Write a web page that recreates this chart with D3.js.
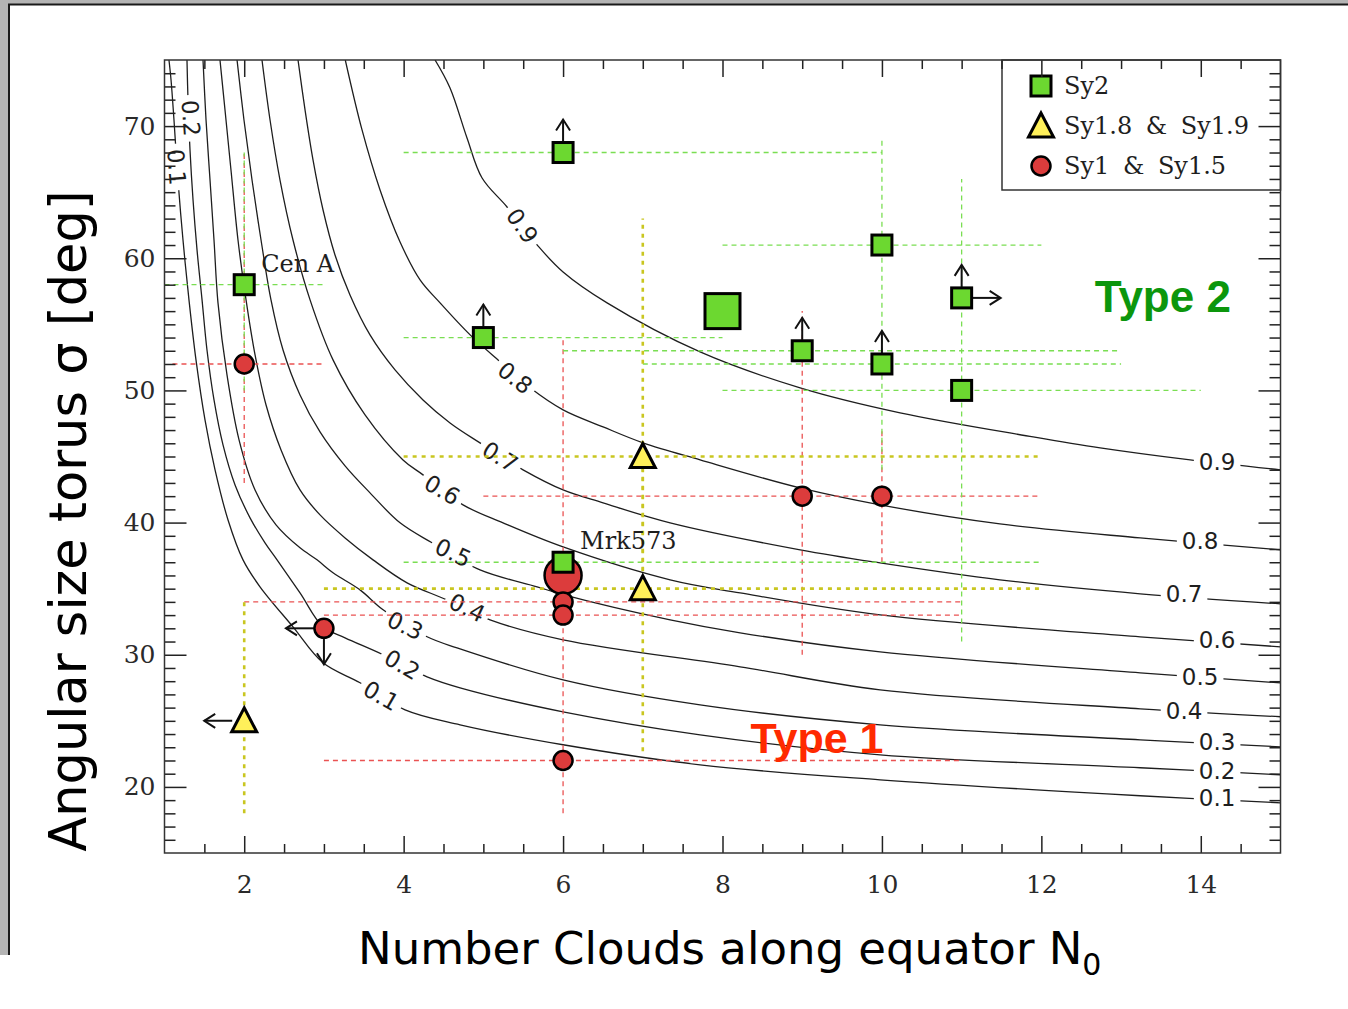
<!DOCTYPE html>
<html>
<head>
<meta charset="utf-8">
<script src="https://cdnjs.cloudflare.com/ajax/libs/d3/7.8.5/d3.min.js"></script>
<style>
  html, body { margin: 0; padding: 0; background: #fff; }
  svg { display: block; }
</style>
</head>
<body>
<svg id="chart" width="1348" height="1009"></svg>
<script>
// ---- contour curves of constant type-2 probability, sampled as [N0, sigma] ----
const contour01 = [[1.056,75],[1.082,73.49],[1.119,70.46],[1.169,65.92],[1.232,61.38],[1.307,56.85],[1.395,52.31],[1.508,47.77],[1.634,43.99],[1.797,40.20],[1.985,37.18],[2.198,35.14],[2.612,32.11],[2.989,29.39],[3.453,27.88],[4.018,25.83],[4.708,24.70],[6.0,23.19],[7.719,21.67],[9.977,20.54],[13.24,19.33],[15.0,18.80]];
const contour02 = [[1.282,75],[1.295,71.97],[1.320,68.19],[1.358,64.41],[1.408,60.63],[1.471,56.85],[1.533,53.06],[1.621,49.28],[1.734,45.88],[1.885,42.85],[2.073,40.36],[2.261,38.47],[2.412,37.18],[2.700,34.68],[2.989,32.11],[3.265,31.28],[3.742,30.0],[4.294,28.33],[4.708,27.50],[6.0,25.68],[7.719,23.94],[9.977,22.43],[13.24,21.45],[15.0,20.92]];
const contour03 = [[1.483,75],[1.521,70.46],[1.571,65.92],[1.621,61.38],[1.671,56.62],[1.784,51.17],[1.935,46.26],[2.136,42.47],[2.399,39.83],[2.700,38.09],[2.913,37.18],[3.114,36.20],[3.453,34.91],[3.742,33.40],[4.294,31.36],[4.670,30.52],[6.0,28.10],[7.719,26.21],[9.977,24.70],[13.24,23.56],[15.0,23.03]];
const contour04 = [[1.696,75],[1.759,71.22],[1.834,66.68],[1.922,61.38],[2.023,56.85],[2.136,52.69],[2.274,48.90],[2.462,45.50],[2.700,42.47],[2.951,40.58],[3.265,38.84],[3.616,37.18],[4.043,35.44],[4.545,34.15],[5.084,32.64],[6.0,31.13],[8.221,29.09],[9.977,27.35],[13.24,25.91],[15.0,25.31]];
const contour05 = [[1.910,75],[1.997,70.46],[2.098,65.92],[2.211,61.38],[2.336,56.85],[2.487,53.06],[2.700,49.66],[2.951,46.86],[3.265,44.29],[3.578,42.25],[3.955,39.98],[4.356,38.47],[4.958,36.42],[5.674,35.14],[6.0,34.55],[7.343,32.64],[8.221,31.66],[9.977,30.22],[13.24,28.63],[15.0,27.87]];
const contour06 = [[2.223,75],[2.324,70.46],[2.449,65.92],[2.612,61.38],[2.826,56.85],[3.114,52.31],[3.516,48.15],[3.992,44.74],[4.243,43.61],[4.745,41.34],[5.247,39.98],[6.0,38.16],[7.343,35.67],[8.221,34.68],[9.977,33.02],[13.24,31.36],[15.0,30.60]];
const contour07 = [[2.675,75],[2.763,71.22],[2.863,67.44],[2.989,63.65],[3.139,60.25],[3.327,57.22],[3.578,54.20],[3.892,51.55],[4.243,49.28],[4.582,47.54],[4.958,46.03],[5.498,43.99],[6.0,42.47],[6.502,41.49],[7.343,39.98],[8.974,37.94],[9.977,36.95],[11.48,35.67],[13.24,34.61],[15.0,33.85]];
const contour08 = [[3.268,75],[3.478,69.71],[3.704,65.17],[3.955,61.23],[4.206,58.36],[4.457,56.62],[4.834,54.20],[5.210,52.17],[5.586,50.20],[6.0,48.53],[6.502,47.24],[7.004,46.03],[7.719,44.74],[8.974,42.62],[9.977,41.34],[11.48,39.90],[13.24,38.84],[15.0,37.94]];
const contour09 = [[4.394,75],[4.582,72.88],[4.795,69.10],[4.984,66.07],[5.297,63.88],[5.674,61.01],[6.0,58.96],[6.552,56.62],[7.719,52.91],[8.974,50.19],[10.228,48.30],[11.897,46.48],[12.738,45.65],[13.867,44.74],[15.0,43.99]];

const levels = [0.1, 0.2, 0.3, 0.4, 0.5, 0.6, 0.7, 0.8, 0.9];
const contourPoints = [contour01, contour02, contour03, contour04, contour05, contour06, contour07, contour08, contour09];

// level labels written along the curves: [level, N0, sigma, rotation]
const curveLabels = [
  [0.1, 1.150, 66.9, 86], [0.2, 1.330, 70.6, 86],
  [0.1, 3.716, 26.89, 30], [0.2, 3.98, 29.24, 30], [0.3, 4.018, 32.19, 25],
  [0.4, 4.795, 33.55, 25], [0.5, 4.620, 37.71, 25], [0.6, 4.482, 42.47, 30],
  [0.7, 5.209, 44.97, 32], [0.8, 5.398, 50.95, 38], [0.9, 5.486, 62.44, 55]
];
// level labels at the right-hand end of each curve: [level, N0, sigma]
const edgeLabels = [
  [0.9, 14.205, 44.59], [0.8, 13.992, 38.62], [0.7, 13.79, 34.61],
  [0.6, 14.205, 31.13], [0.5, 13.992, 28.33], [0.4, 13.79, 25.76],
  [0.3, 14.205, 23.42], [0.2, 14.205, 21.22], [0.1, 14.205, 19.18]
];

// ---- galaxies: N0, sigma, ranges, limit arrows ----
const sy2 = [
  { name: "Cen A", n: 2, s: 58, xr: [1, 3], yr: [50, 68] },
  { n: 6, s: 68, xr: [4, 10], up: true },
  { n: 5, s: 54, xr: [4, 8], up: true },
  { n: 8, s: 56, big: true },
  { n: 9, s: 53, xr: [6, 13], up: true },
  { n: 10, s: 61, xr: [8, 12], yr: [44, 69] },
  { n: 10, s: 52, xr: [7, 13], up: true },
  { n: 11, s: 57, yr: [31, 66], up: true, right: true },
  { n: 11, s: 50, xr: [8, 14] },
  { name: "Mrk573", n: 6, s: 37, xr: [4, 12] }
];
const sy18 = [
  { n: 7, s: 45, xr: [4, 12], yr: [35, 63] },
  { n: 7, s: 35, xr: [3, 12], yr: [22.7, 45] },
  { n: 2, s: 25, yr: [18, 34], left: true }
];
const sy1 = [
  { n: 2, s: 52, xr: [1.1, 3], yr: [43, 68] },
  { n: 3, s: 32, left: true, down: true },
  { n: 6, s: 36, big: true, yr: [18, 54] },
  { n: 6, s: 34, xr: [2, 11] },
  { n: 6, s: 33, xr: [3, 11] },
  { n: 6, s: 22, xr: [3, 11] },
  { n: 9, s: 42, xr: [5, 12], yr: [30, 56] },
  { n: 10, s: 42, yr: [37, 47] }
];

const xMajorTicks = [2, 4, 6, 8, 10, 12, 14];
const yMajorTicks = [20, 30, 40, 50, 60, 70];

const legendItems = ["Sy2", "Sy1.8 & Sy1.9", "Sy1 & Sy1.5"];

// ---- drawing ----
const svg = d3.select("#chart");
const W = 1348;
const x = d3.scaleLinear().domain([1, 15]).range([164.5, 1280.5]);
const y = d3.scaleLinear().domain([15, 75]).range([853, 60]);

const GREEN = "#6cd830", RED = "#dc3c3c", YELLOW = "#fff05a";
const GREEN_LINE = "#7ade52", RED_LINE = "#ea5252", YELLOW_LINE = "#c9c620";
const serif = "'DejaVu Serif', serif";
const sans = "'DejaVu Sans', sans-serif";

// page border
svg.append("rect").attr("x", 0).attr("y", 0).attr("width", W).attr("height", 4).attr("fill", "#b4b4b4");
svg.append("rect").attr("x", 0).attr("y", 0).attr("width", 8).attr("height", 955).attr("fill", "#b4b4b4");
svg.append("line").attr("x1", 8).attr("x2", W).attr("y1", 4.5).attr("y2", 4.5).attr("stroke", "#1a1a1a").attr("stroke-width", 2);
svg.append("line").attr("x1", 9).attr("x2", 9).attr("y1", 4).attr("y2", 955).attr("stroke", "#1a1a1a").attr("stroke-width", 2);

svg.append("defs").append("clipPath").attr("id", "plotClip")
  .append("rect").attr("x", x(1)).attr("y", y(75)).attr("width", x(15) - x(1)).attr("height", y(15) - y(75));

const plot = svg.append("g").attr("clip-path", "url(#plotClip)");

// contour curves
const line = d3.line().x(d => x(d[0])).y(d => y(d[1])).curve(d3.curveCatmullRom.alpha(0.5));
plot.selectAll("path.contour").data(contourPoints).join("path")
  .attr("class", "contour")
  .attr("d", line)
  .attr("fill", "none").attr("stroke", "#1e1e1e").attr("stroke-width", 1.3);

// contour labels with a white break in the line
function levelLabel(parent, txt, px, py, rot) {
  const g = parent.append("g").attr("transform", `translate(${px},${py}) rotate(${rot})`);
  const t = g.append("text").text(txt)
    .attr("text-anchor", "middle").attr("dominant-baseline", "central")
    .attr("font-family", sans).attr("font-size", 23).attr("fill", "#1e1e1e");
  const bb = t.node().getBBox();
  g.insert("rect", "text").attr("x", bb.x - 5).attr("y", bb.y + 2)
    .attr("width", bb.width + 10).attr("height", bb.height - 4).attr("fill", "#fff");
}
curveLabels.forEach(d => levelLabel(plot, d3.format(".1f")(d[0]), x(d[1]), y(d[2]), d[3]));
edgeLabels.forEach(d => levelLabel(plot, d3.format(".1f")(d[0]), x(d[1]), y(d[2]), 0));

// range lines
const ranges = plot.append("g");
function drawRanges(list, color, width, dash) {
  list.forEach(d => {
    if (d.xr) ranges.append("line")
      .attr("x1", x(d.xr[0])).attr("x2", x(d.xr[1])).attr("y1", y(d.s)).attr("y2", y(d.s))
      .attr("stroke", color).attr("stroke-width", width).attr("stroke-dasharray", dash);
    if (d.yr) ranges.append("line")
      .attr("x1", x(d.n)).attr("x2", x(d.n)).attr("y1", y(d.yr[0])).attr("y2", y(d.yr[1]))
      .attr("stroke", color).attr("stroke-width", width).attr("stroke-dasharray", dash);
  });
}
drawRanges(sy1, RED_LINE, 1.3, "5,4");
drawRanges(sy2, GREEN_LINE, 1.3, "5,4");
drawRanges(sy18, YELLOW_LINE, 2.6, "4,5");

// limit arrows
const arrows = plot.append("g").attr("stroke", "#111").attr("stroke-width", 2).attr("fill", "none");
function arrow(px, py, dir, start, len) {
  const v = { up: [0, -1], down: [0, 1], left: [-1, 0], right: [1, 0] }[dir];
  const x0 = px + v[0] * start, y0 = py + v[1] * start;
  const x1 = x0 + v[0] * len, y1 = y0 + v[1] * len;
  arrows.append("line").attr("x1", x0).attr("y1", y0).attr("x2", x1).attr("y2", y1);
  const bx = -v[0] * 11, by = -v[1] * 11, wx = v[1] * 7, wy = v[0] * 7;
  arrows.append("polyline").attr("points",
    `${x1 + bx + wx},${y1 + by + wy} ${x1},${y1} ${x1 + bx - wx},${y1 + by - wy}`);
}
function drawArrows(list, r) {
  list.forEach(d => {
    const px = x(d.n), py = y(d.s);
    if (d.up) arrow(px, py, "up", r, 22);
    if (d.down) arrow(px, py, "down", r, 26);
    if (d.left) arrow(px, py, "left", r, 28);
    if (d.right) arrow(px, py, "right", r, 28);
  });
}
drawArrows(sy2, 11);
drawArrows(sy18, 12);
drawArrows(sy1, 10);

// markers
const marks = plot.append("g");
function square(g, px, py, side) {
  g.append("rect").attr("x", px - side / 2).attr("y", py - side / 2)
    .attr("width", side).attr("height", side)
    .attr("fill", GREEN).attr("stroke", "#000").attr("stroke-width", 3);
}
function triangle(g, px, py) {
  g.append("polygon").attr("points", `${px},${py - 13} ${px - 12.5},${py + 11} ${px + 12.5},${py + 11}`)
    .attr("fill", YELLOW).attr("stroke", "#000").attr("stroke-width", 3);
}
function circle(g, px, py, r) {
  g.append("circle").attr("cx", px).attr("cy", py).attr("r", r)
    .attr("fill", RED).attr("stroke", "#000").attr("stroke-width", 2.5);
}
sy1.forEach(d => circle(marks, x(d.n), y(d.s), d.big ? 18.5 : 9.5));
sy18.forEach(d => triangle(marks, x(d.n), y(d.s)));
sy2.forEach(d => square(marks, x(d.n), y(d.s), d.big ? 35 : 20));

// object names
sy2.filter(d => d.name).forEach(d => {
  plot.append("text").text(d.name)
    .attr("x", x(d.n) + 17).attr("y", y(d.s) - 13)
    .attr("font-family", serif).attr("font-size", 24).attr("fill", "#1e1e1e");
});

// class annotations
plot.append("text").text("Type 2").attr("x", x(12.67)).attr("y", y(55.9))
  .attr("font-family", "'Liberation Sans', Arial, sans-serif").attr("font-weight", "bold")
  .attr("font-size", 44).attr("fill", "#0c960c");
plot.append("text").text("Type 1").attr("x", x(8.35)).attr("y", y(22.6))
  .attr("font-family", "'Liberation Sans', Arial, sans-serif").attr("font-weight", "bold")
  .attr("font-size", 43).attr("fill", "#ff2a00");

// legend
const lg = svg.append("g");
lg.append("rect").attr("x", 1002).attr("y", 60).attr("width", 278.5).attr("height", 130)
  .attr("fill", "#fff").attr("stroke", "#333").attr("stroke-width", 1.5);
square(lg, 1041, 86, 20);
triangle(lg, 1041, 126);
circle(lg, 1041, 166, 9.5);
legendItems.forEach((t, i) => {
  lg.append("text").text(t).attr("x", 1064).attr("y", 94 + i * 40)
    .attr("word-spacing", 6)
    .attr("font-family", serif).attr("font-size", 24).attr("fill", "#1e1e1e");
});

// axes: inward ticks on all four sides
function styleAxis(g) {
  g.select(".domain").remove();
  g.selectAll(".tick line").attr("stroke", "#222").attr("stroke-width", 1.5);
  g.selectAll(".tick text").attr("font-family", serif).attr("font-size", 25).attr("fill", "#2a2a2a");
}
const xMinor = d3.range(1.5, 15, 0.5).filter(v => !xMajorTicks.includes(v));
const yMinor = d3.range(16, 75, 1).filter(v => !yMajorTicks.includes(v));

svg.append("g").attr("transform", `translate(0,${y(15)})`)
  .call(d3.axisBottom(x).tickValues(xMinor).tickSizeInner(-9).tickSizeOuter(0).tickFormat("")).call(styleAxis);
svg.append("g").attr("transform", `translate(0,${y(15)})`)
  .call(d3.axisBottom(x).tickValues(xMajorTicks).tickSizeInner(-17).tickSizeOuter(0).tickPadding(22).tickFormat(d3.format("d"))).call(styleAxis);
svg.append("g").attr("transform", `translate(0,${y(75)})`)
  .call(d3.axisTop(x).tickValues(xMinor).tickSizeInner(-9).tickSizeOuter(0).tickFormat("")).call(styleAxis);
svg.append("g").attr("transform", `translate(0,${y(75)})`)
  .call(d3.axisTop(x).tickValues(xMajorTicks).tickSizeInner(-17).tickSizeOuter(0).tickFormat("")).call(styleAxis);

svg.append("g").attr("transform", `translate(${x(1)},0)`)
  .call(d3.axisLeft(y).tickValues(yMinor).tickSizeInner(-11).tickSizeOuter(0).tickFormat("")).call(styleAxis);
svg.append("g").attr("transform", `translate(${x(1)},0)`)
  .call(d3.axisLeft(y).tickValues(yMajorTicks).tickSizeInner(-22).tickSizeOuter(0).tickPadding(9).tickFormat(d3.format("d"))).call(styleAxis);
svg.append("g").attr("transform", `translate(${x(15)},0)`)
  .call(d3.axisRight(y).tickValues(yMinor).tickSizeInner(-11).tickSizeOuter(0).tickFormat("")).call(styleAxis);
svg.append("g").attr("transform", `translate(${x(15)},0)`)
  .call(d3.axisRight(y).tickValues(yMajorTicks).tickSizeInner(-22).tickSizeOuter(0).tickFormat("")).call(styleAxis);

// plot frame
svg.append("rect").attr("x", x(1)).attr("y", y(75)).attr("width", x(15) - x(1)).attr("height", y(15) - y(75))
  .attr("fill", "none").attr("stroke", "#333").attr("stroke-width", 1.5);

// axis titles
const xt = svg.append("text").attr("x", 358).attr("y", 964)
  .attr("font-family", sans).attr("font-size", 45).attr("fill", "#000");
xt.append("tspan").text("Number Clouds along equator N");
xt.append("tspan").text("0").attr("font-size", 30).attr("dy", 11);

svg.append("text").text("Angular size torus \u03c3 [deg]")
  .attr("transform", `translate(86,521) rotate(-90)`)
  .attr("text-anchor", "middle")
  .attr("font-family", sans).attr("font-size", 51).attr("fill", "#000");
</script>
</body>
</html>
